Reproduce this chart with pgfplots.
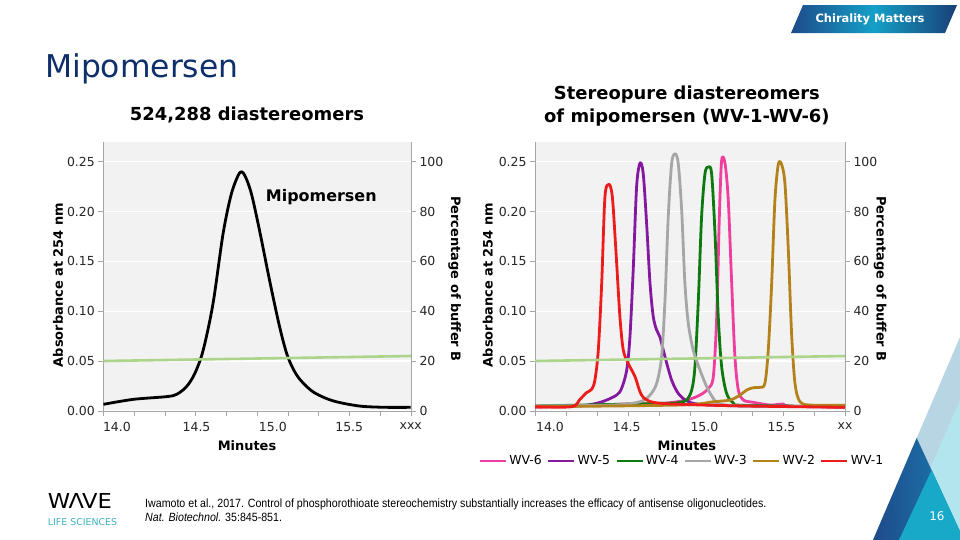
\documentclass[border=0pt]{standalone}
\usepackage{pgfplots}
\pgfplotsset{compat=1.18}
\usepackage{fontspec}
\setmainfont{DejaVu Sans}
\newfontfamily\citefont{Liberation Sans}

\definecolor{navy}{HTML}{0F2F6B}
\definecolor{bgg}{HTML}{F2F2F2}
\definecolor{axgrey}{HTML}{A6A6A6}
\definecolor{tktext}{HTML}{262626}
\definecolor{buf}{HTML}{ADD48B}
\definecolor{wvsix}{HTML}{EF3E9E}
\definecolor{wvfive}{HTML}{84189E}
\definecolor{wvfour}{HTML}{0D7A10}
\definecolor{wvthree}{HTML}{A6A6A6}
\definecolor{wvtwo}{HTML}{B3821A}
\definecolor{wvone}{HTML}{EE1B1B}
\definecolor{teal}{HTML}{3DB3C4}
\definecolor{decolight}{HTML}{B7D5E3}
\definecolor{decopale}{HTML}{B3E5EF}
\definecolor{decodarkA}{HTML}{1E4A8A}
\definecolor{decodarkB}{HTML}{1B80B4}
\definecolor{decoteal}{HTML}{18A9C8}

\pgfplotsset{
  chrom/.style={
    scale only axis,
    height=269.3bp,
    ymin=0, ymax=0.27,
    axis background/.style={fill=bgg},
    ytick={0,0.05,0.1,0.15,0.2,0.25},
    yticklabel style={/pgf/number format/.cd, fixed, fixed zerofill, precision=2},
    ymajorgrids,
    grid style={white, line width=1.5bp},
    axis x line*=bottom, axis y line*=left,
    axis line style={axgrey, line width=0.8bp, -},
    tick style={axgrey, line width=0.8bp},
    major tick length=5bp,
    tick align=outside,
    ticklabel style={font=\fontsize{12.5}{15}\selectfont, text=tktext},
    /pgf/number format/assume math mode=true,
    xticklabels={},
    extra x tick style={major tick style={draw=none}, xticklabel style={yshift=-3bp}},
    label style={font=\fontsize{13}{16}\selectfont\bfseries},
    title style={font=\fontsize{18}{23}\selectfont\bfseries, align=center, anchor=center},
  },
  sec/.style={
    scale only axis,
    height=269.3bp,
    ymin=0, ymax=108,
    axis x line=none, axis y line*=right,
    ytick={0,20,40,60,80,100},
    axis line style={axgrey, line width=0.8bp, -},
    tick style={axgrey, line width=0.8bp},
    major tick length=5bp,
    tick align=outside,
    ticklabel style={font=\fontsize{12.5}{15}\selectfont, text=tktext},
    /pgf/number format/assume math mode=true,
    label style={font=\fontsize{13}{16}\selectfont\bfseries},
    ylabel={Percentage of buffer B},
  },
  cur/.style={line width=2.8bp, smooth, tension=0.5, line join=round},
}

\begin{document}
\begin{tikzpicture}
\useasboundingbox (0,0) rectangle (960bp,-540bp);
\fill[white] (0,0) rectangle (960bp,-540bp);
\begin{scope}[x=1bp,y=-1bp]
  % banner
  \shade[left color=decodarkA, right color=decodarkA!85!black, middle color=decodarkB!75!cyan]
    (803,5) -- (957,5) -- (945,33) -- (791,33) -- cycle;
  \node[text=white, font=\fontsize{11.5}{14}\selectfont\bfseries] at (870,19) {Chirality Matters};
  % slide title
  \node[anchor=base west, text=navy, font=\fontsize{31.5}{36}\selectfont, inner sep=0pt] at (45,77) {Mipomersen};
  % decoration
  \fill[decolight] (960,337) -- (873,540) -- (960,540) -- cycle;
  \fill[decopale] (960,400) -- (899,540) -- (960,540) -- cycle;
  \shade[left color=decodarkA, right color=decodarkB] (916.7,438) -- (873,540) -- (964,540) -- cycle;
  \fill[decoteal] (931.7,470) -- (899,540) -- (964,540) -- cycle;
  \node[text=white, font=\fontsize{12}{14}\selectfont] at (937,516) {16};
  % logo
  \node[inner sep=0pt] at (80,501) {\resizebox{64bp}{15bp}{\fontsize{20}{24}\selectfont W\kern-0.08emΛ\kern-0.08emVE}};
  \node[inner sep=0pt, text=teal] at (82.5,522) {\resizebox{69bp}{!}{\fontsize{8.5}{10}\selectfont LIFE SCIENCES}};
  % citation
  \node[anchor=base west, inner sep=0pt] at (145,507) {\scalebox{0.89}[1]{\citefont\fontsize{12}{14}\selectfont Iwamoto et al., 2017. Control of phosphorothioate stereochemistry substantially increases the efficacy of antisense oligonucleotides.}};
  \node[anchor=base west, inner sep=0pt] at (145,521) {\scalebox{0.89}[1]{\citefont\fontsize{12}{14}\selectfont \textit{Nat. Biotechnol.} 35:845-851.}};
\end{scope}

% ---------------- left chart ----------------
\begin{axis}[chrom, width=307.7bp, at={(103.3bp,-411bp)}, anchor=south west,
  xmin=13.923, xmax=15.916,
  xtick={13.923,14.122,14.322,14.521,14.720,14.920,15.119,15.318,15.517,15.717,15.916},
  extra x ticks={14.011,14.527,15.021,15.516,15.914},
  extra x tick labels={14.0,14.5,15.0,15.5,xxx},
  xlabel={Minutes}, xlabel style={at={(axis description cs:0.467,-0.13)}, anchor=center},
  ylabel={Absorbance at 254 nm}, ylabel style={at={(axis description cs:-0.147,0.468)}, anchor=center},
  title={524,288 diastereomers}, title style={at={(axis description cs:0.467,1.077)}},
]
\addplot[cur, black] coordinates {
(13.924,0.0067)(14.118,0.0117)(14.333,0.0144)(14.398,0.0167)(14.462,0.0244)(14.516,0.0377)
(14.570,0.061)(14.634,0.108)(14.699,0.178)(14.753,0.218)(14.806,0.2387)(14.839,0.2363)
(14.882,0.218)(14.935,0.181)(15.0,0.131)(15.065,0.0844)(15.118,0.0544)(15.183,0.0344)
(15.280,0.0194)(15.409,0.0103)(15.581,0.005)(15.753,0.0037)(15.914,0.0037)};
\node[font=\fontsize{16}{19}\selectfont\bfseries, anchor=base] at (axis cs:15.335,0.210) {Mipomersen};
\end{axis}
\begin{axis}[sec, width=307.7bp, at={(103.3bp,-411bp)}, anchor=south west,
  xmin=13.923, xmax=15.916,
  ylabel style={at={(axis description cs:1.142,0.49)}, anchor=center, rotate=180}]
\addplot[buf, line width=2.6bp] coordinates {(13.923,20.05)(15.916,22.05)};
\end{axis}

% ---------------- right chart ----------------
\begin{axis}[chrom, width=310bp, at={(535bp,-411bp)}, anchor=south west,
  xmin=13.903, xmax=15.911,
  xtick={13.903,14.1038,14.3046,14.5054,14.7062,14.907,15.1078,15.3086,15.5094,15.7102,15.911},
  extra x ticks={14.0,14.497,15.0,15.5,15.911},
  extra x tick labels={14.0,14.5,15.0,15.5,xx},
  xlabel={Minutes}, xlabel style={at={(axis description cs:0.49,-0.13)}, anchor=center},
  ylabel={Absorbance at 254 nm}, ylabel style={at={(axis description cs:-0.152,0.468)}, anchor=center},
  title={Stereopure diastereomers\\of mipomersen (WV-1-WV-6)}, title style={at={(axis description cs:0.49,1.110)}},
  legend columns=6,
  legend style={at={(axis description cs:0.474,-0.186)}, anchor=center, draw=none, fill=none,
    font=\fontsize{12.5}{15}\selectfont, /tikz/every even column/.append style={column sep=3bp}},
  legend image code/.code={\draw[#1] (0bp,0bp) -- (26bp,0bp);},
]
\addplot[cur, wvsix] coordinates {
(13.903,0.0037)(14.367,0.006)(14.475,0.007)(14.734,0.0077)(14.885,0.011)(14.972,0.016)
(15.026,0.0227)(15.058,0.0344)(15.080,0.0945)(15.097,0.1946)(15.112,0.2513)(15.134,0.248)
(15.155,0.2113)(15.177,0.128)(15.198,0.0544)(15.220,0.021)(15.252,0.011)(15.317,0.0087)
(15.425,0.006)(15.511,0.007)(15.554,0.005)(15.911,0.0037)};
\addlegendentry{WV-6}
\addplot[cur, wvfive] coordinates {
(13.903,0.0047)(14.194,0.0053)(14.302,0.0077)(14.367,0.011)(14.432,0.016)(14.464,0.0227)
(14.497,0.041)(14.518,0.0744)(14.540,0.1445)(14.561,0.2246)(14.583,0.2487)(14.604,0.238)
(14.626,0.1879)(14.648,0.128)(14.669,0.0945)(14.691,0.0811)(14.712,0.0744)(14.745,0.0544)
(14.788,0.031)(14.831,0.0177)(14.885,0.0103)(14.972,0.0067)(15.274,0.005)(15.911,0.0043)};
\addlegendentry{WV-5}
\addplot[cur, wvfour] coordinates {
(13.903,0.005)(14.734,0.0077)(14.842,0.0087)(14.885,0.011)(14.918,0.021)(14.939,0.0444)
(14.961,0.111)(14.982,0.1946)(15.004,0.238)(15.026,0.2447)(15.047,0.238)(15.069,0.178)
(15.090,0.0945)(15.112,0.0444)(15.144,0.0177)(15.187,0.0083)(15.252,0.0057)(15.911,0.0043)};
\addlegendentry{WV-4}
\addplot[cur, wvthree] coordinates {
(13.903,0.005)(14.410,0.006)(14.583,0.0093)(14.648,0.016)(14.691,0.0277)(14.723,0.0544)
(14.745,0.111)(14.766,0.1946)(14.788,0.248)(14.810,0.258)(14.831,0.248)(14.853,0.2013)
(14.874,0.128)(14.896,0.0878)(14.928,0.061)(14.972,0.041)(15.015,0.0244)(15.058,0.0127)
(15.101,0.007)(15.274,0.005)(15.911,0.0043)};
\addlegendentry{WV-3}
\addplot[cur, wvtwo] coordinates {
(13.903,0.0043)(14.842,0.006)(15.058,0.0093)(15.166,0.011)(15.231,0.016)(15.274,0.021)
(15.317,0.0234)(15.360,0.0237)(15.392,0.0277)(15.414,0.061)(15.436,0.128)(15.457,0.2113)
(15.479,0.2473)(15.500,0.2473)(15.522,0.228)(15.544,0.161)(15.565,0.0778)(15.587,0.0277)
(15.619,0.0093)(15.684,0.006)(15.911,0.0057)};
\addlegendentry{WV-2}
\addplot[cur, wvone] coordinates {
(13.903,0.0043)(14.140,0.0043)(14.194,0.0117)(14.237,0.0184)(14.270,0.0217)(14.291,0.031)
(14.313,0.061)(14.335,0.128)(14.356,0.2146)(14.382,0.2273)(14.404,0.2146)(14.427,0.161)
(14.453,0.0945)(14.475,0.061)(14.507,0.0477)(14.551,0.0344)(14.579,0.021)(14.604,0.0137)
(14.669,0.0087)(14.842,0.0067)(15.274,0.005)(15.911,0.0037)};
\addlegendentry{WV-1}
\end{axis}
\begin{axis}[sec, width=310bp, at={(535bp,-411bp)}, anchor=south west,
  xmin=13.903, xmax=15.911,
  ylabel style={at={(axis description cs:1.113,0.49)}, anchor=center, rotate=180}]
\addplot[buf, line width=2.6bp] coordinates {(13.903,20.05)(15.911,22.05)};
\end{axis}
\end{tikzpicture}
\end{document}
